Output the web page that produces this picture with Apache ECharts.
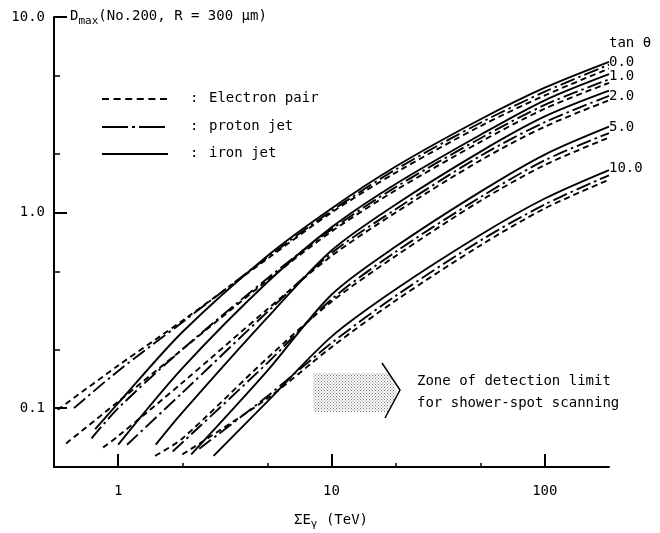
<!DOCTYPE html>
<html>
<head>
<meta charset="utf-8">
<title>Dmax</title>
<script src="https://cdn.jsdelivr.net/npm/echarts@6/dist/echarts.min.js"></script>
</head>
<body style="margin:0;background:#fff;">
<div id="chart" style="width:660px;height:533px;"></div>
<script>
// ΣEγ (TeV) -> Dmax, three curves per tan θ group
var tanLabels = ['0.0', '1.0', '2.0', '5.0', '10.0'];
var xLabelValues = [1, 10, 100];
var xMinorValues = [2, 5, 20, 50];
var yLabelValues = [0.1, 1, 10];
var yMinorValues = [0.2, 0.5, 2, 5];

// tan θ = 0.0
var elec0 = [[0.52, 0.098], [1, 0.165], [2, 0.28], [5, 0.58], [10, 1.0], [20, 1.6], [50, 2.77], [100, 3.97], [200, 5.45]];
var prot0 = [[0.62, 0.1], [1, 0.155], [2, 0.275], [5, 0.59], [10, 1.02], [20, 1.66], [50, 2.88], [100, 4.15], [200, 5.7]];
var iron0 = [[0.78, 0.078], [1, 0.106], [2, 0.245], [5, 0.6], [10, 1.05], [20, 1.72], [50, 3.0], [100, 4.35], [200, 5.9]];
// tan θ = 1.0
var elec1 = [[0.57, 0.066], [1, 0.108], [2, 0.2], [5, 0.45], [10, 0.8], [20, 1.3], [50, 2.3], [100, 3.4], [200, 4.6]];
var prot1 = [[0.75, 0.07], [1, 0.1], [2, 0.2], [5, 0.46], [10, 0.82], [20, 1.35], [50, 2.4], [100, 3.55], [200, 4.8]];
var iron1 = [[1.0, 0.065], [2, 0.16], [5, 0.44], [10, 0.84], [20, 1.4], [50, 2.5], [100, 3.75], [200, 5.1]];
// tan θ = 2.0
var elec2 = [[0.85, 0.063], [1, 0.072], [2, 0.135], [5, 0.32], [10, 0.6], [20, 1.0], [50, 1.85], [100, 2.75], [200, 3.75]];
var prot2 = [[1.1, 0.065], [2, 0.12], [5, 0.31], [10, 0.62], [20, 1.04], [50, 1.95], [100, 2.9], [200, 3.95]];
var iron2 = [[1.5, 0.065], [2, 0.095], [5, 0.29], [10, 0.64], [20, 1.1], [50, 2.05], [100, 3.1], [200, 4.2]];
// tan θ = 5.0
var elec5 = [[1.49, 0.057], [2, 0.07], [5, 0.18], [10, 0.35], [20, 0.6], [50, 1.15], [100, 1.75], [200, 2.42]];
var prot5 = [[1.8, 0.06], [5, 0.17], [10, 0.36], [20, 0.63], [50, 1.2], [100, 1.85], [200, 2.55]];
var iron5 = [[2.2, 0.058], [5, 0.155], [10, 0.38], [20, 0.67], [50, 1.28], [100, 1.98], [200, 2.75]];
// tan θ = 10.0
var elec10 = [[2.0, 0.058], [5, 0.112], [10, 0.205], [20, 0.355], [50, 0.68], [100, 1.05], [200, 1.47]];
var prot10 = [[2.4, 0.062], [5, 0.115], [10, 0.215], [20, 0.375], [50, 0.72], [100, 1.1], [200, 1.55]];
var iron10 = [[2.8, 0.057], [5, 0.108], [10, 0.232], [20, 0.405], [50, 0.77], [100, 1.18], [200, 1.65]];

var kinds = ['Electron pair', 'proton jet', 'iron jet'];
var dashes = {
    'Electron pair': [6, 4],
    'proton jet': [15, 4, 2.5, 4],
    'iron jet': 'solid'
};
var legendDashes = [[7, 4.6], [26, 4, 3, 4], null];
var curves = [
    ['Electron pair', elec0], ['proton jet', prot0], ['iron jet', iron0],
    ['Electron pair', elec1], ['proton jet', prot1], ['iron jet', iron1],
    ['Electron pair', elec2], ['proton jet', prot2], ['iron jet', iron2],
    ['Electron pair', elec5], ['proton jet', prot5], ['iron jet', iron5],
    ['Electron pair', elec10], ['proton jet', prot10], ['iron jet', iron10]
];

var mono = 'DejaVu Sans Mono';

var series = curves.map(function (c) {
    return {
        name: c[0],
        type: 'line',
        symbol: 'none',
        smooth: 0.3,
        data: c[1],
        lineStyle: {color: '#000', width: 1.9, type: dashes[c[0]]},
        itemStyle: {color: '#000'},
        silent: true
    };
});

// dot pattern for the detection-limit arrow
var dots = document.createElement('canvas');
dots.width = 3;
dots.height = 3;
var dctx = dots.getContext('2d');
dctx.fillStyle = '#777';
dctx.fillRect(0, 0, 1, 1);
dctx.fillRect(1.5, 1.5, 1, 1);

var tanY = [63, 77, 97, 128, 169];
var legendY = [99, 127, 154];
var graphics = [
    {type: 'text', left: 609, top: 36, style: {text: 'tan θ', font: '14px ' + mono, fill: '#000'}},
    {type: 'text', left: 70, top: 9, style: {
        text: '{a|D}{b|max}{a|(No.200, R = 300 μm)}',
        rich: {
            a: {fontFamily: mono, fontSize: 14, color: '#000'},
            b: {fontFamily: mono, fontSize: 11, color: '#000', padding: [10, 0, 0, 0]}
        }
    }},
    {type: 'polygon', shape: {points: [[313, 373], [388, 373], [397, 392], [388, 412], [313, 412]]},
        style: {fill: {image: dots, repeat: 'repeat'}}},
    {type: 'polyline', shape: {points: [[382, 363], [400, 390], [385, 418]]},
        style: {stroke: '#000', lineWidth: 1.5, fill: null}},
    {type: 'text', left: 417, top: 374, style: {text: 'Zone of detection limit', font: '14px ' + mono, fill: '#000'}},
    {type: 'text', left: 417, top: 396, style: {text: 'for shower-spot scanning', font: '14px ' + mono, fill: '#000'}},
    {type: 'text', left: 294, top: 513, style: {
        text: '{a|ΣE}{b|γ}{a| (TeV)}',
        rich: {
            a: {fontFamily: mono, fontSize: 14, color: '#000'},
            b: {fontFamily: mono, fontSize: 11, color: '#000', padding: [8, 0, 0, 0]}
        }
    }}
];
tanLabels.forEach(function (t, i) {
    graphics.push({type: 'text', left: 609, top: tanY[i] - 8, style: {text: t, font: '14px ' + mono, fill: '#000'}});
});
// legend drawn by hand: line sample, colon, name
kinds.forEach(function (k, i) {
    graphics.push({type: 'line', shape: {x1: 102, y1: legendY[i], x2: 168, y2: legendY[i]},
        style: {stroke: '#000', lineWidth: 1.9, lineDash: legendDashes[i]}});
    graphics.push({type: 'text', left: 190, top: legendY[i] - 8, style: {text: ':', font: '14px ' + mono, fill: '#000'}});
    graphics.push({type: 'text', left: 209, top: legendY[i] - 8, style: {text: k, font: '14px ' + mono, fill: '#000'}});
});

var chart = echarts.init(document.getElementById('chart'));
chart.setOption({
    backgroundColor: '#fff',
    animation: false,
    grid: {left: 54, right: 51, top: 17, bottom: 66, outerBoundsMode: 'none', containLabel: false},
    xAxis: [{
        type: 'log',
        min: 0.5,
        max: 200,
        position: 'bottom',
        axisLine: {lineStyle: {color: '#000', width: 2}},
        axisTick: {inside: true, length: 13, customValues: xLabelValues, lineStyle: {color: '#000', width: 2}},
        axisLabel: {customValues: xLabelValues, margin: 17, fontFamily: mono, fontSize: 14, color: '#000',
            formatter: function (v) { return String(Math.round(v)); }},
        splitLine: {show: false}
    }, {
        type: 'log',
        min: 0.5,
        max: 200,
        position: 'bottom',
        axisLine: {show: false},
        axisTick: {inside: true, length: 4, customValues: xMinorValues, lineStyle: {color: '#000', width: 1.5}},
        axisLabel: {show: false},
        splitLine: {show: false}
    }],
    yAxis: [{
        type: 'log',
        min: 0.05,
        max: 10,
        position: 'left',
        axisLine: {lineStyle: {color: '#000', width: 2}},
        axisTick: {inside: true, length: 13, customValues: yLabelValues, lineStyle: {color: '#000', width: 2}},
        axisLabel: {customValues: yLabelValues, margin: 9, fontFamily: mono, fontSize: 14, color: '#000',
            formatter: function (v) { return v >= 1 ? v.toFixed(1) : String(v); }},
        splitLine: {show: false}
    }, {
        type: 'log',
        min: 0.05,
        max: 10,
        position: 'left',
        axisLine: {show: false},
        axisTick: {inside: true, length: 6, customValues: yMinorValues, lineStyle: {color: '#000', width: 1.5}},
        axisLabel: {show: false},
        splitLine: {show: false}
    }],
    graphic: graphics,
    series: series
});
</script>
</body>
</html>
